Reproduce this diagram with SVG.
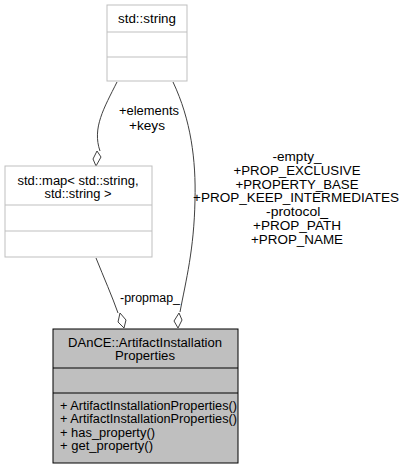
<svg xmlns="http://www.w3.org/2000/svg" width="405" height="469" viewBox="0 0 405 469">
<style>
text{font-family:"Liberation Sans",Arial,sans-serif;font-size:12px;fill:#000}
.c{text-anchor:middle}
.box{fill:#fff;stroke:#bfbfbf;stroke-width:1}
.main{fill:#bfbfbf;stroke:#000;stroke-width:1}
.edge{fill:none;stroke:#404040;stroke-width:1}
.dia{fill:#fff;stroke:#404040;stroke-width:1}
</style>
<rect width="405" height="469" fill="#fff"/>
<g id="connectors">
<path class="edge" d="M117,82 C104,108 92,128 100,151"/>
<polygon class="dia" points="96,166 93,159 97,151 101,157"/>
<path class="edge" d="M173,82 C191,120 196,160 195,200 C194,250 186,280 180,312"/>
<polygon class="dia" points="178,328 174,321 179,313 182,320"/>
<path class="edge" d="M96,258 C104,278 112,296 118,313"/>
<polygon class="dia" points="124,328 118,322 120,313 126,320"/>
<text class="c" x="149" y="115" textLength="60" lengthAdjust="spacingAndGlyphs">+elements</text>
<text class="c" x="147" y="130" textLength="36" lengthAdjust="spacingAndGlyphs">+keys</text>
<text class="c" x="297" y="161" textLength="49" lengthAdjust="spacingAndGlyphs">-empty_</text>
<text class="c" x="297" y="175" textLength="127" lengthAdjust="spacingAndGlyphs">+PROP_EXCLUSIVE</text>
<text class="c" x="297" y="189" textLength="123" lengthAdjust="spacingAndGlyphs">+PROPERTY_BASE</text>
<text class="c" x="296" y="202" textLength="206" lengthAdjust="spacingAndGlyphs">+PROP_KEEP_INTERMEDIATES</text>
<text class="c" x="297" y="216" textLength="62" lengthAdjust="spacingAndGlyphs">-protocol_</text>
<text class="c" x="297" y="230" textLength="88" lengthAdjust="spacingAndGlyphs">+PROP_PATH</text>
<text class="c" x="297" y="244" textLength="92" lengthAdjust="spacingAndGlyphs">+PROP_NAME</text>
<text class="c" x="150" y="302" textLength="60" lengthAdjust="spacingAndGlyphs">-propmap_</text>
</g>
<g id="std_string">
<rect class="box" x="107" y="5" width="80" height="76"/>
<line class="box" x1="107" y1="32" x2="187" y2="32"/>
<line class="box" x1="107" y1="57" x2="187" y2="57"/>
<text class="c" x="147" y="23" textLength="58" lengthAdjust="spacingAndGlyphs">std::string</text>
</g>
<g id="std_map">
<rect class="box" x="5" y="166" width="147" height="91"/>
<line class="box" x1="5" y1="205" x2="152" y2="205"/>
<line class="box" x1="5" y1="231" x2="152" y2="231"/>
<text class="c" x="78" y="185" textLength="121" lengthAdjust="spacingAndGlyphs">std::map&lt; std::string,</text>
<text class="c" x="78" y="198" textLength="67" lengthAdjust="spacingAndGlyphs">std::string &gt;</text>
</g>
<g id="ArtifactInstallationProperties">
<rect class="main" x="53" y="329" width="185" height="134"/>
<line class="main" x1="53" y1="368" x2="238" y2="368"/>
<line class="main" x1="53" y1="393" x2="238" y2="393"/>
<text class="c" x="145" y="347" textLength="154" lengthAdjust="spacingAndGlyphs">DAnCE::ArtifactInstallation</text>
<text class="c" x="145" y="360" textLength="60" lengthAdjust="spacingAndGlyphs">Properties</text>
<text x="60" y="410" textLength="177" lengthAdjust="spacingAndGlyphs">+ ArtifactInstallationProperties()</text>
<text x="60" y="423" textLength="177" lengthAdjust="spacingAndGlyphs">+ ArtifactInstallationProperties()</text>
<text x="60" y="437" textLength="95" lengthAdjust="spacingAndGlyphs">+ has_property()</text>
<text x="60" y="450" textLength="93" lengthAdjust="spacingAndGlyphs">+ get_property()</text>
</g>
</svg>
